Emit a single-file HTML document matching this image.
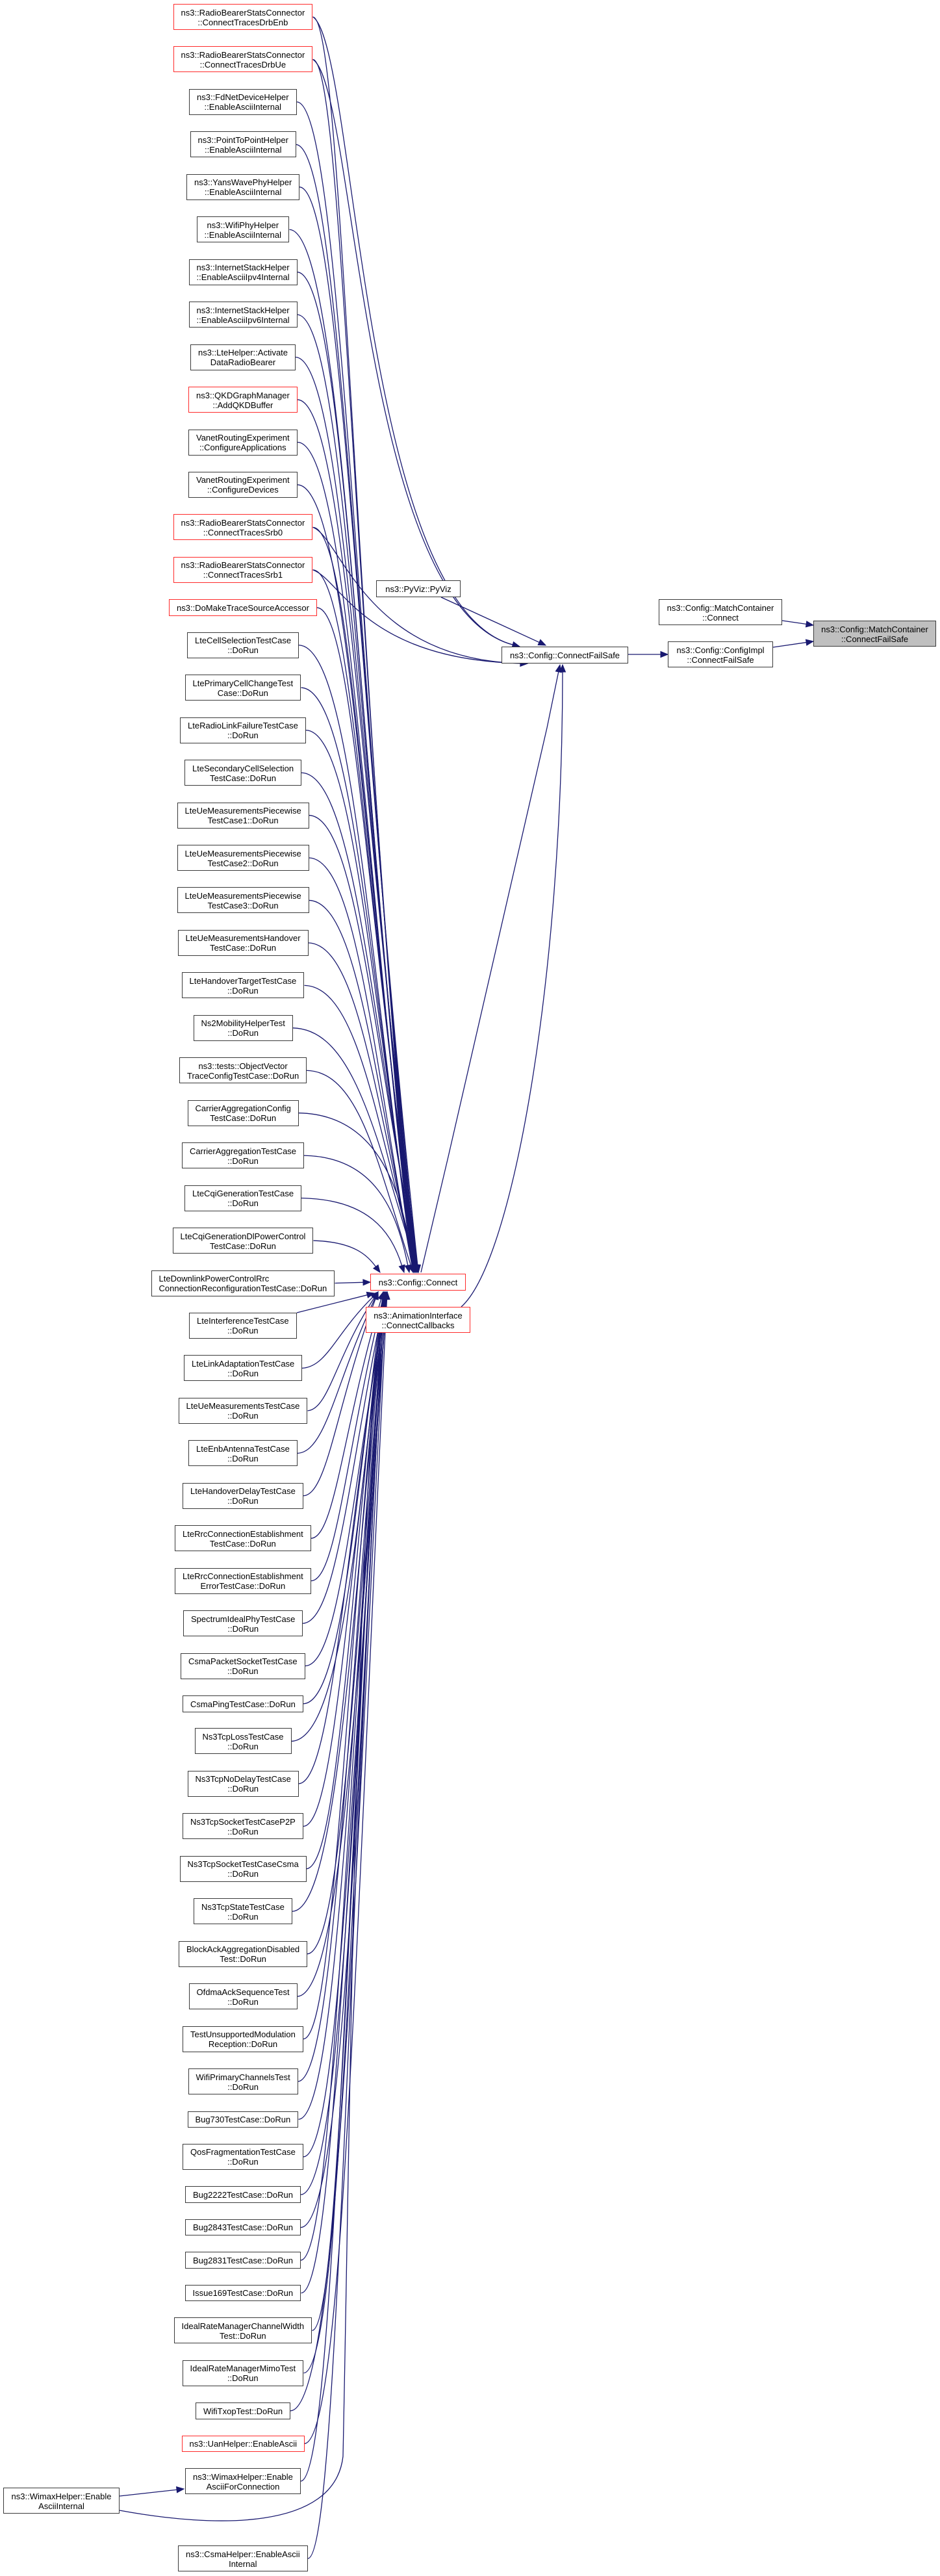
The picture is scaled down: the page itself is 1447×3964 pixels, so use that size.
<!DOCTYPE html>
<html><head><meta charset="utf-8">
<style>
html,body{margin:0;padding:0;background:#fff;}
body{width:1447px;height:3964px;position:relative;overflow:hidden;font-family:"Liberation Sans",Arial,sans-serif;}
.b{position:absolute;box-sizing:border-box;border:1.4px solid #3a3a3a;background:#fff;font-size:13px;line-height:15px;text-align:center;white-space:nowrap;padding:0 11px;color:#000;}
.r{border-color:#ff2a2a;}
.g{background:#bfbfbf;}
svg{position:absolute;left:0;top:0;}
</style></head><body>
<svg id="s" width="1447" height="3964"></svg>
<div id="c"></div>
<script>
var N=[
["r","ns3::RadioBearerStatsConnector","::ConnectTracesDrbEnb"],
["r","ns3::RadioBearerStatsConnector","::ConnectTracesDrbUe"],
["n","ns3::FdNetDeviceHelper","::EnableAsciiInternal"],
["n","ns3::PointToPointHelper","::EnableAsciiInternal"],
["n","ns3::YansWavePhyHelper","::EnableAsciiInternal"],
["n","ns3::WifiPhyHelper","::EnableAsciiInternal"],
["n","ns3::InternetStackHelper","::EnableAsciiIpv4Internal"],
["n","ns3::InternetStackHelper","::EnableAsciiIpv6Internal"],
["n","ns3::LteHelper::Activate","DataRadioBearer"],
["r","ns3::QKDGraphManager","::AddQKDBuffer"],
["n","VanetRoutingExperiment","::ConfigureApplications"],
["n","VanetRoutingExperiment","::ConfigureDevices"],
["r","ns3::RadioBearerStatsConnector","::ConnectTracesSrb0"],
["r","ns3::RadioBearerStatsConnector","::ConnectTracesSrb1"],
["r","ns3::DoMakeTraceSourceAccessor"],
["n","LteCellSelectionTestCase","::DoRun"],
["n","LtePrimaryCellChangeTest","Case::DoRun"],
["n","LteRadioLinkFailureTestCase","::DoRun"],
["n","LteSecondaryCellSelection","TestCase::DoRun"],
["n","LteUeMeasurementsPiecewise","TestCase1::DoRun"],
["n","LteUeMeasurementsPiecewise","TestCase2::DoRun"],
["n","LteUeMeasurementsPiecewise","TestCase3::DoRun"],
["n","LteUeMeasurementsHandover","TestCase::DoRun"],
["n","LteHandoverTargetTestCase","::DoRun"],
["n","Ns2MobilityHelperTest","::DoRun"],
["n","ns3::tests::ObjectVector","TraceConfigTestCase::DoRun"],
["n","CarrierAggregationConfig","TestCase::DoRun"],
["n","CarrierAggregationTestCase","::DoRun"],
["n","LteCqiGenerationTestCase","::DoRun"],
["n","LteCqiGenerationDlPowerControl","TestCase::DoRun"],
["L","LteDownlinkPowerControlRrc","ConnectionReconfigurationTestCase::DoRun"],
["n","LteInterferenceTestCase","::DoRun"],
["n","LteLinkAdaptationTestCase","::DoRun"],
["n","LteUeMeasurementsTestCase","::DoRun"],
["n","LteEnbAntennaTestCase","::DoRun"],
["n","LteHandoverDelayTestCase","::DoRun"],
["n","LteRrcConnectionEstablishment","TestCase::DoRun"],
["n","LteRrcConnectionEstablishment","ErrorTestCase::DoRun"],
["n","SpectrumIdealPhyTestCase","::DoRun"],
["n","CsmaPacketSocketTestCase","::DoRun"],
["n","CsmaPingTestCase::DoRun"],
["n","Ns3TcpLossTestCase","::DoRun"],
["n","Ns3TcpNoDelayTestCase","::DoRun"],
["n","Ns3TcpSocketTestCaseP2P","::DoRun"],
["n","Ns3TcpSocketTestCaseCsma","::DoRun"],
["n","Ns3TcpStateTestCase","::DoRun"],
["n","BlockAckAggregationDisabled","Test::DoRun"],
["n","OfdmaAckSequenceTest","::DoRun"],
["n","TestUnsupportedModulation","Reception::DoRun"],
["n","WifiPrimaryChannelsTest","::DoRun"],
["n","Bug730TestCase::DoRun"],
["n","QosFragmentationTestCase","::DoRun"],
["n","Bug2222TestCase::DoRun"],
["n","Bug2843TestCase::DoRun"],
["n","Bug2831TestCase::DoRun"],
["n","Issue169TestCase::DoRun"],
["n","IdealRateManagerChannelWidth","Test::DoRun"],
["n","IdealRateManagerMimoTest","::DoRun"],
["n","WifiTxopTest::DoRun"],
["r","ns3::UanHelper::EnableAscii"],
["n","ns3::WimaxHelper::Enable","AsciiForConnection"],
["n","ns3::CsmaHelper::EnableAscii","Internal"]
];
var C=document.getElementById('c'),S=document.getElementById('s'),ns="http://www.w3.org/2000/svg";
function box(x,y,w,h,lines,cls,align){
 var d=document.createElement('div');d.className='b '+(cls||'');
 d.style.left=x+'px';d.style.top=y+'px';d.style.width=w+'px';d.style.height=h+'px';
 d.style.paddingTop='4.5px';
 if(align)d.style.textAlign=align;
 d.innerHTML=lines.join('<br>');C.appendChild(d);return d;}
function cbox(cx,y,h,lines,cls,align){
 var d=document.createElement('div');d.className='b '+(cls||'');
 d.style.top=y+'px';d.style.height=h+'px';d.style.paddingTop='4.5px';
 if(align)d.style.textAlign=align;
 d.innerHTML=lines.join('<br>');C.appendChild(d);
 var w=Math.round(d.offsetWidth);d.style.left=(cx-w/2)+'px';return {l:cx-w/2,r:cx+w/2,t:y,b:y+h,cy:y+h/2};}
function path(d){var p=document.createElementNS(ns,'path');p.setAttribute('d',d);p.setAttribute('fill','none');p.setAttribute('stroke','#191970');p.setAttribute('stroke-width','1.3');S.appendChild(p);}
function head(x,y,fx,fy){var dx=x-fx,dy=y-fy,L=Math.sqrt(dx*dx+dy*dy)||1;dx/=L;dy/=L;var bx=x-dx*11,by=y-dy*11,px=-dy*4.5,py=dx*4.5;
 var p=document.createElementNS(ns,'polygon');p.setAttribute('points',x+','+y+' '+(bx+px)+','+(by+py)+' '+(bx-px)+','+(by-py));p.setAttribute('fill','#191970');p.setAttribute('stroke','#191970');S.appendChild(p);return [bx,by];}
function bez(x0,y0,x1,y1,x2,y2,x3,y3){var e=head(x3,y3,x2,y2);path('M'+x0+','+y0+' C'+x1+','+y1+' '+x2+','+y2+' '+e[0]+','+e[1]);}
function line(pts){var n=pts.length,e=head(pts[n-1][0],pts[n-1][1],pts[n-2][0],pts[n-2][1]);var d='M'+pts[0][0]+','+pts[0][1];for(var i=1;i<n-1;i++)d+=' L'+pts[i][0]+','+pts[i][1];d+=' L'+e[0]+','+e[1];path(d);}
var t=6,B=[];
for(var i=0;i<N.length;i++){var n=N[i],lines=n.slice(1),two=lines.length==2,h=two?40:25.5;
 if(i==61)t=3917;
 var cls=n[0]=='r'?'r':'';
 B.push(cbox(374,t,h,lines,cls,n[0]=='L'?'left':null));
 t+=two?65.45:50.45;}
box(570,1960,147,25.5,["ns3::Config::Connect"],'r');
box(563,2011,161,40,["ns3::AnimationInterface","::ConnectCallbacks"],'r');
box(579,893,130,26,["ns3::PyViz::PyViz"]);
box(772,995,195,25.5,["ns3::Config::ConnectFailSafe"]);
box(1028,987,162,40,["ns3::Config::ConfigImpl","::ConnectFailSafe"]);
box(1014,922,190,40,["ns3::Config::MatchContainer","::Connect"]);
box(1252,955,189,40,["ns3::Config::MatchContainer","::ConnectFailSafe"],'g');
box(5,3828,179,40,["ns3::WimaxHelper::Enable","AsciiInternal"]);
for(var i=0;i<N.length;i++){var b=B[i],rx=b.r,cy=b.cy;
 if(i==30){line([[rx,cy],[570,1973]]);continue;}
 if(i==31){line([[rx,b.t],[576,1990]]);continue;}
 if(cy<1960){
  var tx=i==29?585:(i==28?622:(i==27?630:636+(i%5)*2)),ty=1958;
  var bx=i>=26?tx-20:540+i*1.6;
  bez(rx,cy,rx+0.75*(bx-rx),cy+2,bx,cy+0.45*(ty-cy),tx,ty);
 } else {
  var tx=i<36?582:590+(i%4)*2,ty=1988,bx=i<36?500+i*0.5:528+(i%6)*4;
  bez(rx,cy,rx+0.75*(bx-rx),cy-2,bx,cy-0.45*(cy-ty),tx,ty);
 }
}
var fs=[0,1,12,13];
for(var k=0;k<4;k++){var b=B[fs[k]];
 if(k<2) bez(b.r,b.cy,548,b.cy+40,555,930,800,995);
 else bez(b.r,b.cy,525,b.cy+15,560,1015,812,1021);}
// Wimax internal
line([[184,3841],[283,3830]]);
(function(){var e=head(592,1988,560,2300);
 path('M184,3863 C330,3890 515,3895 528,3780 C540,3200 548,2300 '+e[0]+','+e[1]);})();
line([[679,919],[840,993]]);
line([[648,1958],[690,1780],[842,1120],[862,1023]]);
bez(710,2011,790,1940,866,1500,866,1023);
line([[967,1007],[1028,1007]]);
line([[1190,996],[1252,987]]);
line([[1204,955],[1252,962]]);
</script>
</body></html>
